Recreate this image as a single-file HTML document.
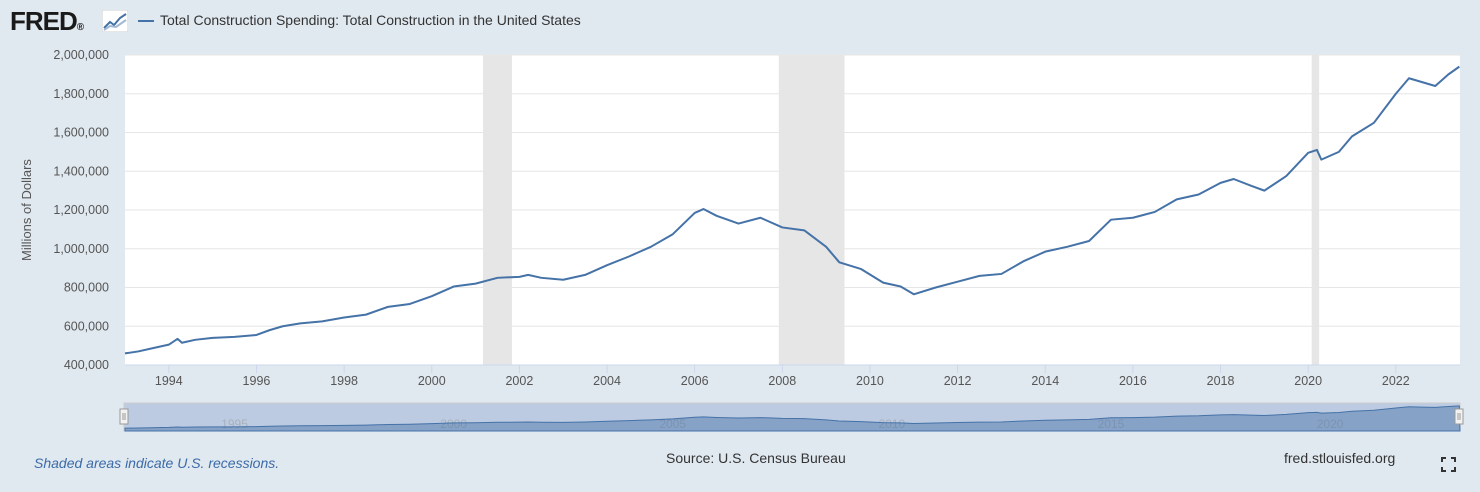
<!DOCTYPE html>
<html><head><meta charset="utf-8"><style>
body{margin:0;width:1480px;height:492px;background:#e1e9f0;font-family:"Liberation Sans",sans-serif;position:relative;overflow:hidden}
.t{position:absolute;white-space:nowrap}
</style></head><body>
<div class="t" style="left:10px;top:6px;font-size:26px;font-weight:bold;color:#1a1a1a;letter-spacing:-1px">FRED<span style="font-size:10px">®</span></div>
<svg class="t" style="left:102px;top:10px" width="26" height="22"><rect x="0" y="0" width="26" height="22" fill="#fff" stroke="#ccc"/><polyline points="2,18 8,12 12,15 18,8 24,4" fill="none" stroke="#4572a7" stroke-width="2"/><polyline points="2,20 8,16 14,17 24,10" fill="none" stroke="#9fb8d6" stroke-width="2"/></svg>
<div class="t" style="left:138px;top:12px;font-size:14px;color:#333"><span style="display:inline-block;width:16px;height:2px;background:#4572a7;vertical-align:middle;margin-right:6px"></span>Total Construction Spending: Total Construction in the United States</div>
<svg id="c" class="t" style="left:0;top:0" width="1480" height="492"></svg>
<div class="t" style="left:34px;top:455px;font-size:14px;font-style:italic;color:#3b6aa8">Shaded areas indicate U.S. recessions.</div>
<div class="t" style="left:666px;top:450px;font-size:14px;color:#333">Source: U.S. Census Bureau</div>
<div class="t" style="left:1284px;top:450px;font-size:14px;color:#333">fred.stlouisfed.org</div>
<svg class="t" style="left:1441px;top:457px" width="15" height="15"><path d="M1 5V1H5M10 1H14V5M14 10V14H10M5 14H1V10" fill="none" stroke="#333" stroke-width="2"/></svg>
<script>
const years=[1993.0,1993.3,1993.6,1994.0,1994.2,1994.3,1994.6,1995.0,1995.5,1996.0,1996.3,1996.6,1997.0,1997.5,1998.0,1998.5,1999.0,1999.5,2000.0,2000.5,2001.0,2001.5,2002.0,2002.2,2002.5,2003.0,2003.5,2004.0,2004.5,2005.0,2005.5,2006.0,2006.2,2006.5,2007.0,2007.5,2008.0,2008.5,2009.0,2009.3,2009.8,2010.3,2010.7,2011.0,2011.5,2012.0,2012.5,2013.0,2013.5,2014.0,2014.5,2015.0,2015.5,2016.0,2016.5,2017.0,2017.5,2018.0,2018.3,2018.7,2019.0,2019.5,2020.0,2020.2,2020.3,2020.7,2021.0,2021.5,2022.0,2022.3,2022.6,2022.9,2023.2,2023.45];
const values=[460,470,485,505,535,515,530,540,545,555,580,600,615,625,645,660,700,715,755,805,820,850,855,865,850,840,865,915,960,1010,1075,1185,1205,1170,1130,1160,1110,1095,1010,930,895,825,805,765,800,830,860,870,935,985,1010,1040,1150,1160,1190,1255,1280,1340,1360,1325,1300,1375,1495,1510,1460,1500,1580,1650,1800,1880,1860,1840,1900,1940];
const yTicks=[400,600,800,1000,1200,1400,1600,1800,2000];
const xTicks=[1994,1996,1998,2000,2002,2004,2006,2008,2010,2012,2014,2016,2018,2020,2022];
const recessions=[[2001.17,2001.83],[2007.92,2009.42],[2020.08,2020.25]];
const navTicks=[1995,2000,2005,2010,2015,2020];
const NS='http://www.w3.org/2000/svg',svg=document.getElementById('c');
const L=125,R=1460,T=55,B=365;
const x=v=>L+(v-1993)*(1396-169)/28, y=v=>B-(v-400)/1600*(B-T);
function el(t,a,p){const e=document.createElementNS(NS,t);for(const k in a)e.setAttribute(k,a[k]);(p||svg).appendChild(e);return e;}
let bg=el('rect',{x:L,y:T,width:R-L,height:B-T,fill:'#fff'});


recessions.forEach(r=>{let e=el('rect',{x:x(r[0]),y:T,width:x(r[1])-x(r[0]),height:B-T,fill:'#e6e6e6'});

});
yTicks.forEach(v=>{let g=el('line',{x1:L,x2:R,y1:y(v),y2:y(v),stroke:'#e6e6e6'});


let t=el('text',{x:109,y:y(v)+4,'text-anchor':'end','font-size':12.5,fill:'#555','font-family':'Liberation Sans'});t.textContent=v.toLocaleString('en-US')+',000';

});
el('line',{x1:L,x2:R,y1:B,y2:B,stroke:'#ccd6eb'});
xTicks.forEach(v=>{el('line',{x1:x(v),x2:x(v),y1:B,y2:B+8,stroke:'#ccd6eb'});
let t=el('text',{x:x(v),y:B+20,'text-anchor':'middle','font-size':12.5,fill:'#555','font-family':'Liberation Sans'});t.textContent=v;

});
let yt=el('text',{x:0,y:0,transform:'translate(31,210) rotate(-90)','text-anchor':'middle','font-size':13,fill:'#555','font-family':'Liberation Sans'});yt.textContent='Millions of Dollars';


let line=el('polyline',{points:years.map((v,i)=>x(v)+','+y(values[i])).join(' '),fill:'none',stroke:'#4572a7','stroke-width':2,'stroke-linejoin':'round'});


const NT=403,NB=431;
let nb=el('rect',{x:124,y:NT,width:R-124,height:NB-NT,fill:'#bccbe2',stroke:'#ccc'});


navTicks.forEach(v=>{let t=el('text',{x:x(v+0.5),y:NB-3,'text-anchor':'middle','font-size':12,fill:'#a8b0bb','font-family':'Liberation Sans'});t.textContent=v;

});
const ny=v=>NB-2-(v-400)/1600*24;
let na=el('polygon',{points:x(1993)+','+NB+' '+years.map((v,i)=>x(v)+','+ny(values[i])).join(' ')+' '+R+','+NB,fill:'rgba(69,114,167,0.45)',stroke:'#4572a7','stroke-width':1});


[124,1459].forEach(h=>{let e=el('rect',{x:h-4,y:409,width:8,height:15,fill:'#f2f2f2',stroke:'#999'});


el('line',{x1:h-1,x2:h-1,y1:413,y2:420,stroke:'#999'});el('line',{x1:h+1,x2:h+1,y1:413,y2:420,stroke:'#999'});});
</script>
</body></html>
